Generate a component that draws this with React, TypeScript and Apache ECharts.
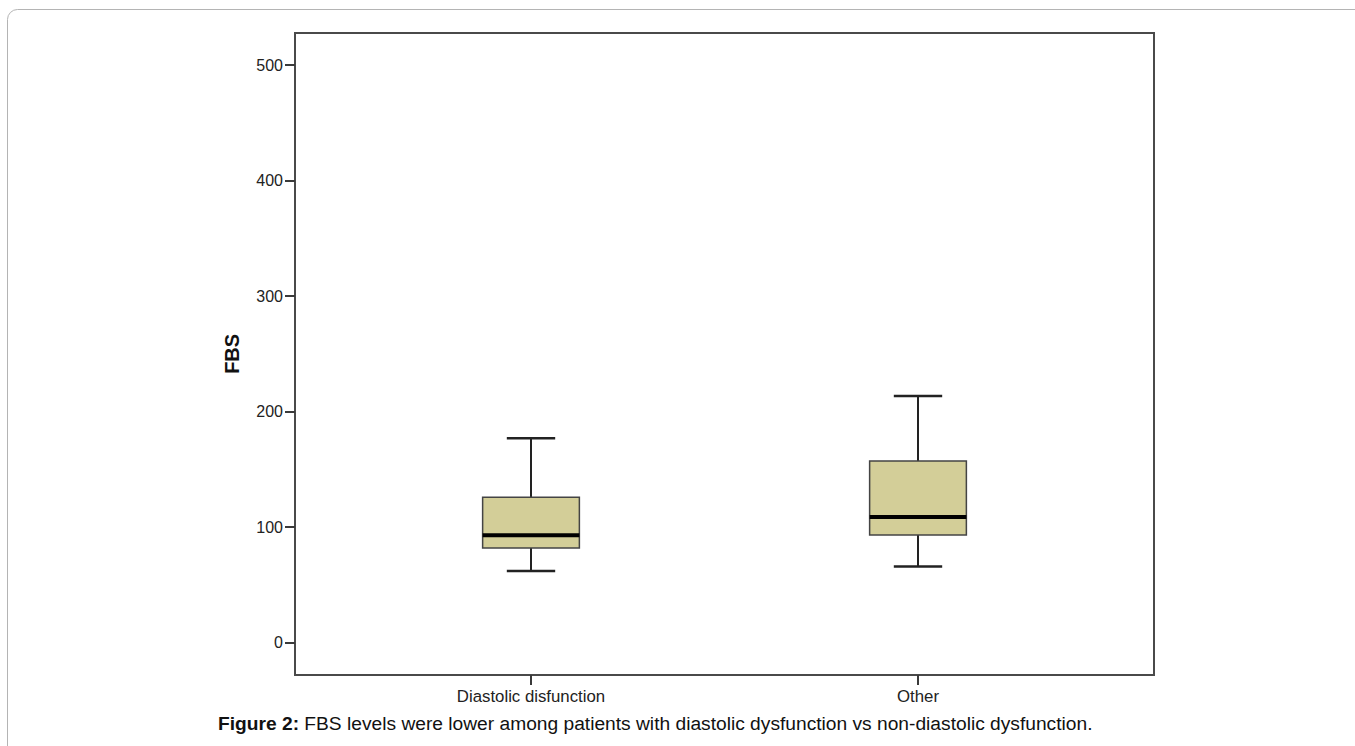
import React, { useEffect, useRef } from 'react';
import * as echarts from 'echarts';

const categories = ['Diastolic disfunction', 'Other'];
const whiskerLow = [62, 66];
const q1 = [82, 93.2];
const median = [93, 108.8];
const q3 = [125.8, 157.3];
const whiskerHigh = [177, 213.5];

const yMin = 0;
const yMax = 500;
const yInterval = 100;
const plotMin = -27.95;
const plotMax = 527.7;

const axisName = 'FBS';
const captionBold = 'Figure 2:';
const captionText = ' FBS levels were lower among patients with diastolic dysfunction vs non-diastolic dysfunction.';

export default function App() {
  const ref = useRef<HTMLDivElement>(null);
  useEffect(() => {
    if (!ref.current) return;
    const chart = echarts.init(ref.current, null, { renderer: 'svg' });
    const data = categories.map((c, i) => [i, whiskerLow[i], q1[i], median[i], q3[i], whiskerHigh[i]]);
    const font = '"Liberation Sans", Arial, sans-serif';
    const option: any = {
      animation: false,
      backgroundColor: '#ffffff',
      grid: [
        { left: 295, top: 33, width: 859, height: 642, show: true, borderColor: '#4a4a4a', borderWidth: 2, backgroundColor: 'transparent' },
        { left: 295, top: 65, width: 859, height: 577.7 },
        { left: 337.5, top: 33, width: 774, height: 642 },
      ],
      xAxis: [
        { gridIndex: 0, type: 'value', show: false, min: 0, max: 1 },
        { gridIndex: 1, type: 'value', show: false, min: 0, max: 1 },
        {
          gridIndex: 2,
          type: 'category',
          data: categories,
          position: 'bottom',
          axisLine: { show: false, onZero: false },
          axisTick: { show: true, length: 10, alignWithLabel: true, lineStyle: { color: '#3a3a3a', width: 2 } },
          axisLabel: { color: '#222', fontSize: 16.8, fontFamily: font, margin: 13 },
          splitLine: { show: false },
        },
      ],
      yAxis: [
        { gridIndex: 0, type: 'value', show: false, min: 0, max: 1 },
        {
          gridIndex: 1,
          type: 'value',
          min: yMin,
          max: yMax,
          interval: yInterval,
          name: axisName,
          nameLocation: 'middle',
          nameRotate: 90,
          nameGap: 53,
          nameTextStyle: { fontSize: 20, fontWeight: 'bold', color: '#111', fontFamily: font },
          axisLine: { show: false, onZero: false },
          axisTick: { show: true, length: 10, lineStyle: { color: '#3a3a3a', width: 2 } },
          axisLabel: { color: '#222', fontSize: 16, fontFamily: font, margin: 12 },
          splitLine: { show: false },
        },
        { gridIndex: 2, type: 'value', show: false, min: plotMin, max: plotMax },
      ],
      series: [
        {
          type: 'custom',
          xAxisIndex: 2,
          yAxisIndex: 2,
          data,
          encode: { x: 0, y: [1, 2, 3, 4, 5] },
          renderItem: (params: any, api: any) => {
            const idx = api.value(0);
            const pLo = api.coord([idx, api.value(1)]);
            const pQ1 = api.coord([idx, api.value(2)]);
            const pMed = api.coord([idx, api.value(3)]);
            const pQ3 = api.coord([idx, api.value(4)]);
            const pHi = api.coord([idx, api.value(5)]);
            const band = api.size([1, 0])[0];
            const bw = band * 0.25;
            const cw = bw * 0.5;
            const cx = pMed[0];
            const wStyle = { stroke: '#222', lineWidth: 2 };
            return {
              type: 'group',
              children: [
                { type: 'line', shape: { x1: cx, y1: pQ3[1], x2: cx, y2: pHi[1] }, style: wStyle },
                { type: 'line', shape: { x1: cx, y1: pQ1[1], x2: cx, y2: pLo[1] }, style: wStyle },
                { type: 'line', shape: { x1: cx - cw / 2, y1: pHi[1], x2: cx + cw / 2, y2: pHi[1] }, style: { stroke: '#222', lineWidth: 2.5 } },
                { type: 'line', shape: { x1: cx - cw / 2, y1: pLo[1], x2: cx + cw / 2, y2: pLo[1] }, style: { stroke: '#222', lineWidth: 2.5 } },
                {
                  type: 'rect',
                  shape: { x: cx - bw / 2, y: pQ3[1], width: bw, height: pQ1[1] - pQ3[1] },
                  style: { fill: '#d3ce98', stroke: '#444', lineWidth: 1.5 },
                },
                { type: 'line', shape: { x1: cx - bw / 2, y1: pMed[1], x2: cx + bw / 2, y2: pMed[1] }, style: { stroke: '#000', lineWidth: 4 } },
              ],
            };
          },
        },
      ],
      graphic: [
        {
          type: 'rect',
          shape: { x: 7.5, y: 9.5, width: 1400, height: 800, r: 10 },
          style: { fill: 'none', stroke: '#b4b4b4', lineWidth: 1 },
          silent: true,
          z: -1,
        },
        {
          type: 'text',
          left: 218,
          top: 714,
          style: {
            text: '{b|' + captionBold + '}{r|' + captionText + '}',
            rich: {
              b: { fontSize: 19.2, fontWeight: 'bold', fill: '#111', fontFamily: font },
              r: { fontSize: 19.2, fill: '#111', fontFamily: font },
            },
          },
        },
      ],
    };
    chart.setOption(option);
    return () => chart.dispose();
  }, []);
  return <div ref={ref} style={{ position: 'fixed', left: 0, top: 0, width: 1355, height: 746 }} />;
}
